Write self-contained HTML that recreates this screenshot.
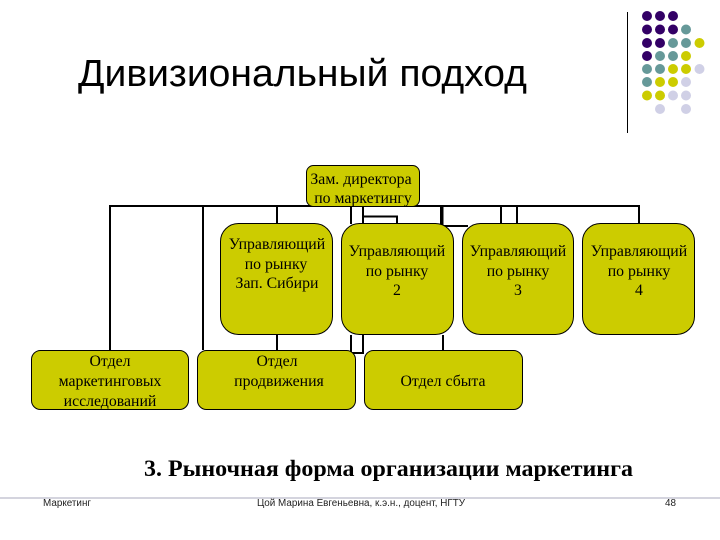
<!DOCTYPE html>
<html lang="ru">
<head>
<meta charset="utf-8">
<style>
html,body{margin:0;padding:0;background:#fff;}
svg{display:block;}
</style>
</head>
<body>
<svg width="720" height="540" viewBox="0 0 720 540" xmlns="http://www.w3.org/2000/svg">
<rect width="720" height="540" fill="#fff"/>
<!-- decor -->
<line x1="627.5" y1="12" x2="627.5" y2="133" stroke="#000" stroke-width="1"/>
<g fill="#330066">
<circle cx="647" cy="16" r="5"/><circle cx="660" cy="16" r="5"/><circle cx="673" cy="16" r="5"/>
<circle cx="647" cy="29.500" r="5"/><circle cx="660" cy="29.500" r="5"/><circle cx="673" cy="29.500" r="5"/>
<circle cx="647" cy="43" r="5"/><circle cx="660" cy="43" r="5"/>
<circle cx="647" cy="56" r="5"/>
</g>
<g fill="#669999">
<circle cx="686" cy="29.500" r="5"/>
<circle cx="673" cy="43" r="5"/><circle cx="686" cy="43" r="5"/>
<circle cx="660" cy="56" r="5"/><circle cx="673" cy="56" r="5"/>
<circle cx="647" cy="69" r="5"/><circle cx="660" cy="69" r="5"/>
<circle cx="647" cy="82" r="5"/>
</g>
<g fill="#cccc00">
<circle cx="699.500" cy="43" r="5"/>
<circle cx="686" cy="56" r="5"/>
<circle cx="673" cy="69" r="5"/><circle cx="686" cy="69" r="5"/>
<circle cx="660" cy="82" r="5"/><circle cx="673" cy="82" r="5"/>
<circle cx="647" cy="95.500" r="5"/><circle cx="660" cy="95.500" r="5"/>
</g>
<g fill="#d0d0e6">
<circle cx="699.500" cy="69" r="5"/>
<circle cx="686" cy="82" r="5"/>
<circle cx="673" cy="95.500" r="5"/><circle cx="686" cy="95.500" r="5"/>
<circle cx="660" cy="109" r="5"/><circle cx="686" cy="109" r="5"/>
</g>
<!-- title -->
<text x="78" y="86" font-family="'Liberation Sans',sans-serif" font-size="38" textLength="449" lengthAdjust="spacingAndGlyphs" fill="#000">Дивизиональный подход</text>
<!-- connectors -->
<g fill="none" stroke="#000" stroke-width="2">
<path d="M110 350V206H639V224"/>
<line x1="203" y1="206" x2="203" y2="350"/>
<line x1="277" y1="206" x2="277" y2="224"/>
<line x1="277" y1="335" x2="277" y2="350"/>
<line x1="351" y1="206" x2="351" y2="224"/>
<path d="M351 335V353H363V335"/>
<path d="M363 206V224M363 216.500H397V224"/>
<line x1="501" y1="206" x2="501" y2="224"/>
<line x1="517" y1="206" x2="517" y2="224"/>
<path d="M442.500 206V226H468" stroke-width="2"/>
<line x1="441.500" y1="206" x2="441.500" y2="226" stroke-width="3"/>
<line x1="443" y1="335" x2="443" y2="350"/>
</g>
<!-- boxes -->
<g fill="#cccc00" stroke="#000" stroke-width="1">
<rect x="306.500" y="165.500" width="113" height="41" rx="7"/>
<rect x="220.500" y="223.500" width="112" height="111" rx="18"/>
<rect x="341.500" y="223.500" width="112" height="111" rx="18"/>
<rect x="462.500" y="223.500" width="111" height="111" rx="18"/>
<rect x="582.500" y="223.500" width="112" height="111" rx="18"/>
<rect x="31.500" y="350.500" width="157" height="59" rx="9"/>
<rect x="197.500" y="350.500" width="158" height="59" rx="9"/>
<rect x="364.500" y="350.500" width="158" height="59" rx="9"/>
</g>
<!-- box text -->
<g font-family="'Liberation Serif',serif" font-size="15.800" fill="#000" text-anchor="middle">
<text x="361" y="184">Зам. директора</text>
<text x="363" y="203">по маркетингу</text>
<text x="277" y="249">Управляющий</text>
<text x="276" y="269">по рынку</text>
<text x="277" y="288">Зап. Сибири</text>
<text x="397" y="256">Управляющий</text>
<text x="397" y="276">по рынку</text>
<text x="397" y="295">2</text>
<text x="518" y="256">Управляющий</text>
<text x="518" y="276">по рынку</text>
<text x="518" y="295">3</text>
<text x="639" y="256">Управляющий</text>
<text x="639" y="276">по рынку</text>
<text x="639" y="295">4</text>
<text x="110" y="366">Отдел</text>
<text x="110" y="386">маркетинговых</text>
<text x="110" y="406">исследований</text>
<text x="277" y="366">Отдел</text>
<text x="279" y="386">продвижения</text>
<text x="443" y="386">Отдел сбыта</text>
</g>
<!-- subtitle -->
<text x="144" y="476" font-family="'Liberation Serif',serif" font-weight="bold" font-size="23" textLength="489" lengthAdjust="spacingAndGlyphs" fill="#000">3. Рыночная форма организации маркетинга</text>
<!-- footer -->
<rect x="0" y="497" width="720" height="2" fill="#d4d4de"/>
<g font-family="'Liberation Sans',sans-serif" font-size="10" fill="#222">
<text x="43" y="506" textLength="48" lengthAdjust="spacingAndGlyphs">Маркетинг</text>
<text x="257" y="506" textLength="208" lengthAdjust="spacingAndGlyphs">Цой Марина Евгеньевна, к.э.н., доцент, НГТУ</text>
<text x="665" y="506" textLength="11" lengthAdjust="spacingAndGlyphs">48</text>
</g>
</svg>
</body>
</html>
